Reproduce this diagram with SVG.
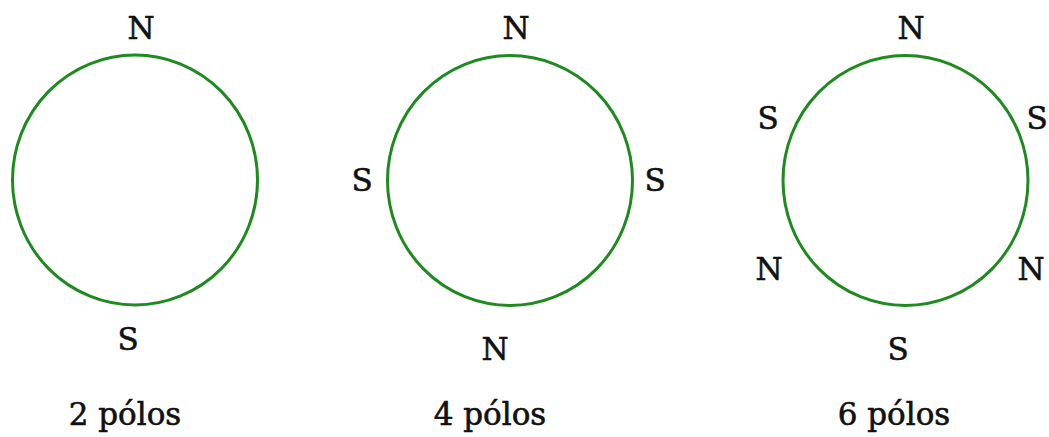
<svg xmlns="http://www.w3.org/2000/svg" width="1049" height="437" viewBox="0 0 1049 437">
<style>
.ring{fill:none;stroke:#1f8a1f;stroke-width:3}
.t{font-family:"DejaVu Serif","Liberation Serif",serif;font-size:31px;fill:#111;stroke:#111;stroke-width:0.6;text-anchor:middle}
</style>
<rect width="1049" height="437" fill="#fff"/>
<g id="rotor2">
<ellipse class="ring" cx="135" cy="180" rx="122.5" ry="125"/>
<text class="t" x="141" y="39">N</text>
<text class="t" x="128" y="350">S</text>
<text class="t" x="125" y="425">2 pólos</text>
</g>
<g id="rotor4">
<ellipse class="ring" cx="510" cy="180.5" rx="122.5" ry="125"/>
<text class="t" x="516" y="39">N</text>
<text class="t" x="362" y="191">S</text>
<text class="t" x="655" y="191">S</text>
<text class="t" x="495" y="360">N</text>
<text class="t" x="490" y="425">4 pólos</text>
</g>
<g id="rotor6">
<ellipse class="ring" cx="905.5" cy="180.5" rx="122.5" ry="125"/>
<text class="t" x="911" y="39">N</text>
<text class="t" x="768" y="129">S</text>
<text class="t" x="1037" y="129">S</text>
<text class="t" x="769" y="280">N</text>
<text class="t" x="1031" y="280">N</text>
<text class="t" x="898" y="360">S</text>
<text class="t" x="894" y="425">6 pólos</text>
</g>
<g id="connectors"></g>
</svg>
